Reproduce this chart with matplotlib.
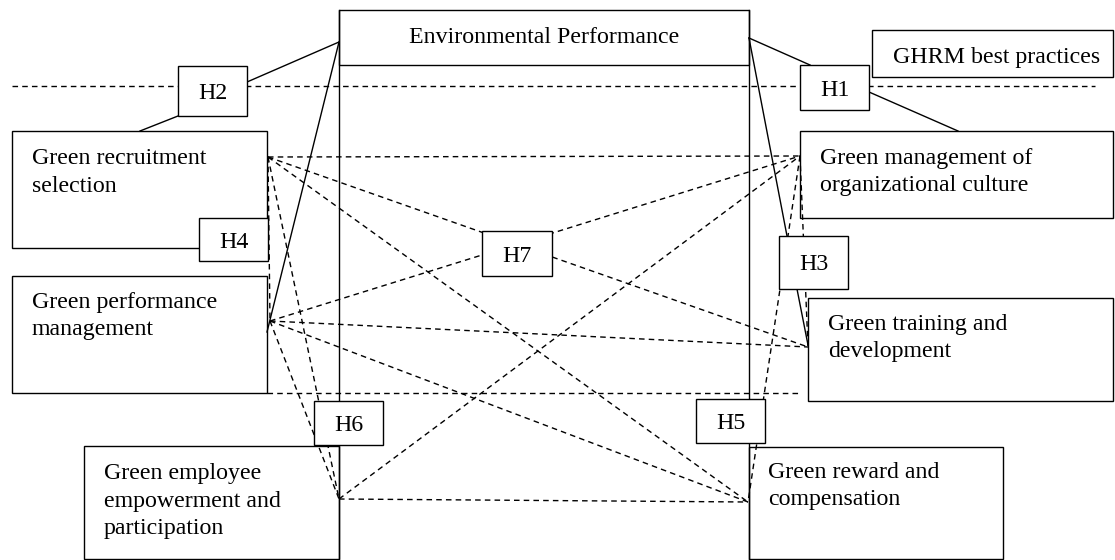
import matplotlib.pyplot as plt
from matplotlib.patches import Rectangle

plt.rcParams['font.family'] = ['Liberation Serif', 'DejaVu Serif']

# concept boxes: name, text lines
concepts = ["ep", "ghrm", "recruit", "perf", "empower", "culture", "training", "reward"]
concept_text = {
    "ep": ["Environmental Performance"],
    "ghrm": ["GHRM best practices"],
    "recruit": ["Green recruitment", "selection"],
    "perf": ["Green performance", "management"],
    "empower": ["Green employee", "empowerment and", "participation"],
    "culture": ["Green management of", "organizational culture"],
    "training": ["Green training and", "development"],
    "reward": ["Green reward and", "compensation"],
}
hypotheses = ["H1", "H2", "H3", "H4", "H5", "H6", "H7"]

# links between practices (dashed)
dashed_links = [("R", "M"), ("R", "T"), ("R", "W"), ("R", "E"), ("R", "P"),
                ("P", "M"), ("P", "T"), ("P", "W"), ("P", "E"),
                ("E", "W"), ("E", "M"), ("M", "W"), ("M", "T")]

# ---- layout (pixel coords, y down) ----
box_pos = {
    "ep": (339, 10, 749, 65),
    "ghrm": (872, 30, 1113, 77),
    "recruit": (12, 131, 267, 248),
    "perf": (12, 276, 267, 393),
    "empower": (84, 446, 339, 559),
    "culture": (800, 131, 1113, 218),
    "training": (808, 298, 1113, 401),
    "reward": (749, 447, 1003, 559),
}
text_pos = {  # left x, first baseline
    "ep": (544, 43),
    "ghrm": (893, 63),
    "recruit": (32, 164),
    "perf": (32, 308),
    "empower": (104, 479),
    "culture": (820, 164),
    "training": (828, 330),
    "reward": (768, 478),
}
h_pos = {
    "H1": (800, 65, 869, 110),
    "H2": (178, 66, 247, 116),
    "H3": (779, 236, 848, 289),
    "H4": (199, 218, 268, 261),
    "H5": (696, 399, 765, 443),
    "H6": (314, 401, 383, 445),
    "H7": (482, 231, 552, 276),
}
nodes = {"R": (268, 157), "P": (270, 321), "E": (339, 499),
         "M": (800, 156), "T": (808, 347), "W": (748, 502)}
solid_segs = [((247, 82), (339, 42)), ((178, 116), (140, 131)),
              ((339, 42), (267, 332)), ((749, 38), (810, 65)),
              ((869, 92), (958, 131)), ((749, 38), (787, 236)),
              ((797, 289), (808, 345))]

fig = plt.figure(figsize=(11.15, 5.6), dpi=100)
ax = fig.add_axes([0, 0, 1, 1])
ax.set_xlim(0, 1115)
ax.set_ylim(560, 0)
ax.axis("off")

lw = 1.0
dash = (0, (4, 3))
fs = 17.2

for name in concepts:
    x0, y0, x1, y1 = box_pos[name]
    ax.add_patch(Rectangle((x0, y0), x1 - x0, y1 - y0, facecolor="white",
                           edgecolor="black", lw=lw, zorder=1))
    tx, ty = text_pos[name]
    ha = "center" if name == "ep" else "left"
    for i, line in enumerate(concept_text[name]):
        ax.text(tx, ty + i * 27.5, line, fontsize=fs, ha=ha, va="baseline", zorder=5)

# long sides of the environmental performance frame
for x in (339, 749):
    ax.plot([x, x], [10, 559], color="black", lw=lw, zorder=2)

# reference dashed lines
ax.plot([12, 1095], [86, 86], color="black", lw=lw, ls=dash, zorder=2)
ax.plot([267, 800], [393, 393], color="black", lw=lw, ls=dash, zorder=2)

for a, b in dashed_links:
    (xa, ya), (xb, yb) = nodes[a], nodes[b]
    ax.plot([xa, xb], [ya, yb], color="black", lw=lw, ls=dash, zorder=2)

for p, q in solid_segs:
    ax.plot([p[0], q[0]], [p[1], q[1]], color="black", lw=lw, zorder=2)

for h in hypotheses:
    x0, y0, x1, y1 = h_pos[h]
    ax.add_patch(Rectangle((x0, y0), x1 - x0, y1 - y0, facecolor="white",
                           edgecolor="black", lw=lw, zorder=3))
    ax.text((x0 + x1) / 2, (y0 + y1) / 2 + 8, h, fontsize=fs, ha="center",
            va="baseline", zorder=5)

fig.savefig("out.png", dpi=100, facecolor="white")
